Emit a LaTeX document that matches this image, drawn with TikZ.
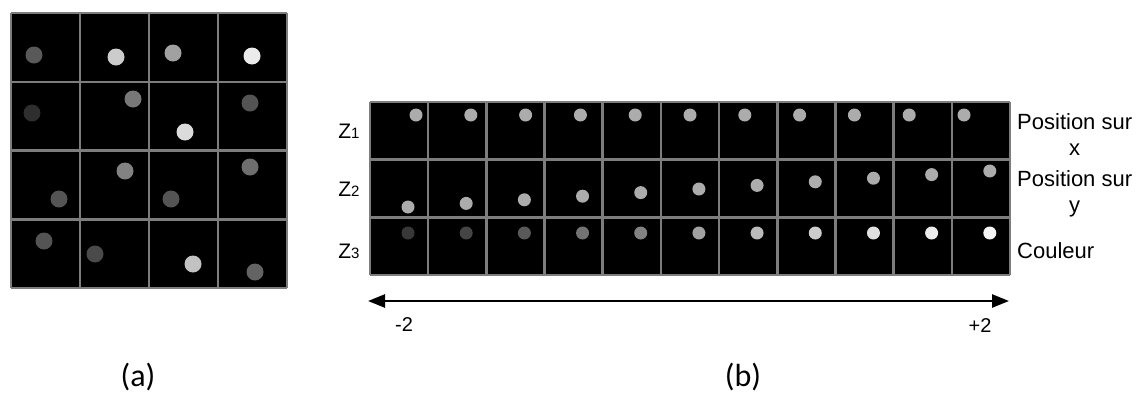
\documentclass[tikz,border=0pt]{standalone}
\usepackage{fontspec}
\setmainfont{Liberation Sans}
\newfontfamily\capfont{Carlito}
\usetikzlibrary{arrows.meta}
\definecolor{gridgray}{RGB}{125,125,125}
\definecolor{dotgray}{RGB}{172,172,172}
\tikzset{
  cellgrid/.style={draw=gridgray,line width=2.5pt},
  zlab/.style={font=\fontsize{21}{21}\selectfont,inner sep=0pt},
  rlab/.style={font=\fontsize{22}{26}\selectfont,align=center,anchor=west,inner sep=0pt},
  ticklab/.style={font=\fontsize{20}{20}\selectfont,inner sep=0pt},
  caplab/.style={font=\capfont\fontsize{32}{32}\selectfont,inner sep=0pt,anchor=base},
  axis/.style={line width=2.5pt,{Triangle[length=17pt,width=13pt]}-{Triangle[length=17pt,width=13pt]}}
}
\begin{document}
\begin{tikzpicture}[x=1pt,y=-1pt]
\useasboundingbox (0,0) rectangle (1139,394);
% ---------- panel (a)
\fill[black] (11,13) rectangle (287,288);
\foreach \x/\y/\g in {34/55/35,116/57/80,173/53/63,252/56/92,
                      32/113/18,133/99/47,185/132/86,250/103/33,
                      59/199/33,125/171/51,171/199/33,250/167/43,
                      44/241/33,95/254/29,193/264/76,255/272/39}
  \fill[white!\g!black] (\x,\y) circle[radius=8.5pt];
\foreach \i in {0,...,4}{
  \draw[cellgrid] (11+69*\i,13) -- (11+69*\i,288);
  \draw[cellgrid] (11,13+68.75*\i) -- (287,13+68.75*\i);
}
% ---------- panel (b)
\fill[black] (370,102) rectangle (1010,275);
\foreach \i in {0,...,10}{
  \fill[dotgray] (416+54.8*\i,115) circle[radius=6.5pt];
  \fill[dotgray] (408+58.18*\i,207-3.6*\i) circle[radius=6.5pt];
}
\foreach \i/\g in {0/22,1/27,2/35,3/45,4/51,5/63,6/73,7/80,8/88,9/92,10/96}
  \fill[white!\g!black] (408+58.18*\i,233) circle[radius=6.5pt];
\foreach \i in {0,...,11}
  \draw[cellgrid] (370+58.18*\i,102) -- (370+58.18*\i,275);
\foreach \i in {0,...,3}
  \draw[cellgrid] (370,102+57.67*\i) -- (1010,102+57.67*\i);
% labels
\node[zlab] (z1) at (349,131) {Z{\fontsize{15}{15}\selectfont 1}};
\node[zlab] (z2) at (349,189) {Z{\fontsize{15}{15}\selectfont 2}};
\node[zlab] (z3) at (349,251) {Z{\fontsize{15}{15}\selectfont 3}};
\node[rlab] (px) at (1017,135) {Position sur\\x};
\node[rlab] (py) at (1017,194) {Position sur\\y};
\node[rlab] (col) at (1017,251) {Couleur};
% axis
\coordinate (al) at (368,301);
\coordinate (ar) at (1009,301);
\draw[axis] (al) -- (ar);
\node[ticklab] (m2) at (404,325) {-2};
\node[ticklab] (p2) at (980,326) {+2};
% captions
\node[caplab] (capa) at (138,386) {(a)};
\node[caplab] (capb) at (743,386) {(b)};
\end{tikzpicture}
\end{document}
